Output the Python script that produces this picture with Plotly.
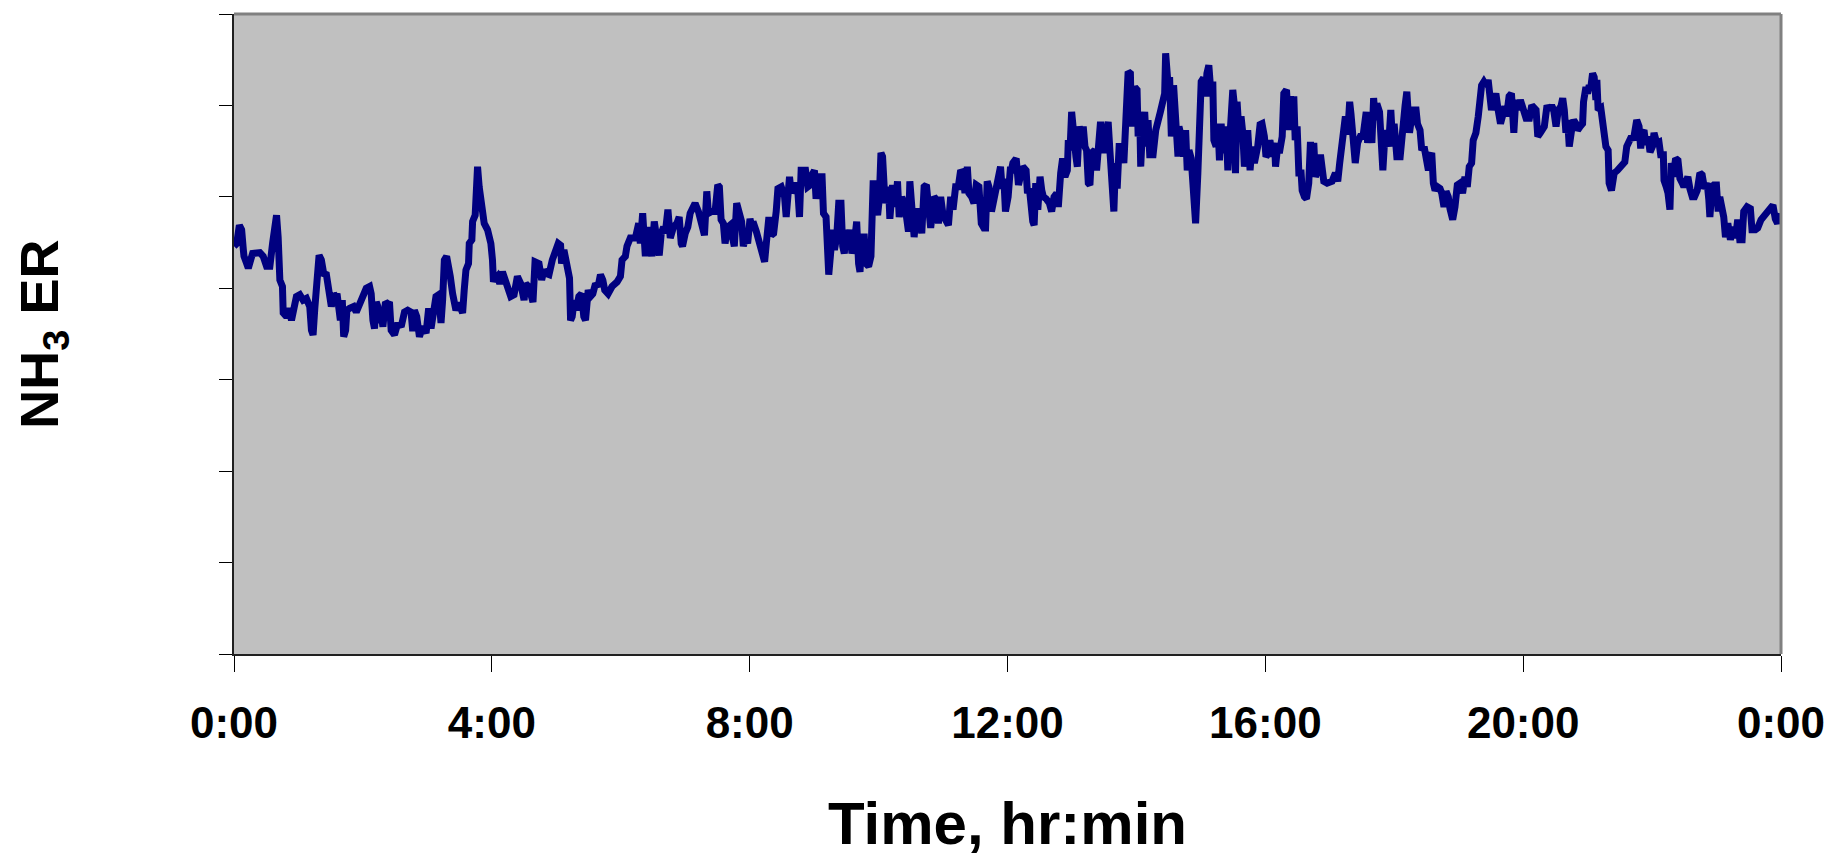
import plotly.graph_objects as go

# Time of day in minutes after midnight (0 .. 1440 = 24:00)
minutes = [
    0.0, 2.5, 5.0, 7.1, 8.7, 9.3, 11.8, 13.3, 15.5, 17.3, 24.1, 27.2, 30.3, 33.4, 35.9, 38.0, 39.6, 41.1, 42.7, 45.1,
    45.8, 48.9, 51.3, 53.5, 55.0, 58.1, 61.2, 64.3, 67.4, 70.5, 72.1, 73.6, 75.2, 77.3, 79.2, 81.3, 83.5, 86.0, 87.5, 89.1,
    90.6, 92.8, 94.6, 95.9, 97.7, 99.0, 100.8, 102.1, 103.9, 105.1, 107.6, 111.3, 113.8, 116.9, 120.0, 123.1, 126.2, 127.7, 129.3, 130.8,
    132.4, 133.9, 135.5, 137.0, 138.6, 141.0, 143.2, 144.7, 146.3, 149.4, 152.5, 155.6, 158.7, 161.7, 164.8, 166.4, 167.9, 170.1, 172.6, 175.7,
    178.8, 181.2, 183.4, 185.6, 188.0, 190.5, 192.7, 194.2, 195.8, 197.9, 199.2, 201.3, 203.5, 206.6, 209.1, 211.2, 212.8, 214.3, 215.9, 218.3,
    219.0, 221.4, 222.1, 224.5, 225.1, 226.7, 228.2, 229.8, 231.3, 232.9, 236.0, 239.1, 240.6, 241.5,
    242.1, 245.2, 247.4, 249.9, 252.3, 254.5, 257.6, 260.7, 263.8, 266.9, 268.4, 270.0, 271.5, 274.0, 276.2, 278.3, 280.2, 283.9, 286.4, 288.5,
    290.7, 293.2, 296.3, 299.4, 301.8, 304.0, 304.9, 307.1, 309.3, 311.1, 312.3, 313.3, 314.8, 316.7, 318.5, 321.0, 323.5, 325.6, 327.2, 329.7,
    331.8, 334.0, 336.5, 338.9, 341.1, 343.3, 345.1, 348.2, 351.9, 356.6, 359.7, 361.2, 364.3, 365.8, 368.9, 373.6, 376.7, 378.2, 380.4, 382.9,
    385.3, 387.5, 389.0, 391.2, 393.7, 395.8, 397.7, 399.9, 401.4, 403.9, 406.1, 409.1, 412.2, 414.4, 416.3, 417.5, 420.0, 422.4, 424.6, 426.8,
    429.2, 432.3, 435.4, 437.9, 440.1, 441.6, 444.7, 447.8, 450.3, 451.8, 453.4, 455.5, 457.1, 459.6, 461.7, 463.9, 465.7, 467.9, 470.1, 472.5,
    474.1, 476.3, 478.1, 480.3, 482.4,
    483.1, 486.2, 489.3, 491.7, 493.9, 495.5, 497.9, 500.1, 502.3, 504.7, 506.3, 509.4, 512.5, 514.0, 515.6, 517.1, 518.7, 521.7, 524.8, 526.4,
    527.9, 532.0, 534.1, 536.3, 538.1, 540.3, 541.8, 544.9, 547.4, 548.7, 551.1, 552.7, 553.6, 555.8, 557.3, 558.9, 561.0, 562.9, 565.0, 566.6,
    568.1, 569.7, 571.2, 573.4, 575.2, 577.4, 579.6, 581.4, 582.7, 584.5, 586.7, 588.2, 590.7, 592.9, 593.8, 595.0, 596.9, 599.1, 600.6, 602.2,
    603.7, 605.2, 606.8, 609.3, 610.5, 613.0, 615.5, 617.6, 619.2, 621.6, 623.8, 626.0, 627.8, 629.1, 630.9, 633.1, 635.2, 637.7, 640.2, 642.4,
    644.5, 646.4, 648.5, 651.6, 653.8, 655.7, 657.8, 660.0, 662.5, 665.0, 667.1, 669.3, 671.7, 674.2, 676.4, 678.5, 680.4, 682.6, 684.1, 686.6,
    688.8, 690.9, 693.4, 695.6, 698.0, 699.6, 701.1, 702.7, 705.1, 707.3, 709.5, 711.9, 713.5, 715.0, 716.6, 718.1, 720.6, 722.8,
    723.1, 725.0, 728.1, 730.2, 731.8, 734.2, 737.3, 738.6, 740.4, 741.7, 743.5, 744.8, 746.3, 748.2, 750.3, 751.9, 753.4, 755.9, 759.0, 761.1,
    763.3, 765.8, 767.3, 769.5, 771.3, 773.5, 775.7, 776.6, 778.2, 779.7, 781.2, 783.7, 785.0, 786.8, 789.0, 790.5, 792.1, 793.6, 795.2, 796.7,
    798.3, 801.3, 802.9, 804.4, 806.6, 809.1, 810.6, 813.7, 815.3, 817.4, 819.0, 820.5, 822.1, 823.9, 826.1, 828.3, 830.1, 832.3, 834.4, 835.4,
    836.9, 838.5, 840.6, 841.6, 843.1, 844.0, 845.6, 847.7, 849.3, 850.8, 852.4, 855.5, 858.0, 860.1, 862.3, 864.1, 866.3, 867.2, 868.5, 869.7,
    870.9, 872.5, 874.6, 876.5, 878.7, 879.6, 881.8, 883.9, 885.8, 887.3, 888.9, 891.0, 892.6, 895.1, 897.2, 898.8, 900.3, 902.5, 904.3, 905.6,
    907.4, 909.6, 911.1, 912.1, 914.2, 915.8, 917.3, 918.9, 920.4, 922.0, 923.5, 925.1, 927.2, 929.7, 931.2, 932.2, 933.7, 935.9, 937.4, 939.0,
    940.5, 943.6, 945.8, 947.6, 949.8, 952.9, 955.1, 956.9, 959.1, 960.6,
    961.8, 964.3, 966.4, 968.6, 969.5, 971.1, 973.5, 975.7, 977.2, 979.7, 981.9, 983.4, 985.0, 986.5, 987.8, 989.6, 991.2, 993.3, 994.3, 996.4,
    998.3, 1000.4, 1002.0, 1003.5, 1005.1, 1006.6, 1008.8, 1011.3, 1012.8, 1014.4, 1017.5, 1022.1, 1025.2, 1027.4, 1029.2, 1031.4, 1034.5, 1036.6, 1038.5, 1039.7,
    1041.6, 1043.7, 1045.9, 1048.4, 1050.9, 1053.9, 1055.2, 1057.0, 1059.2, 1060.8, 1062.3, 1063.8, 1066.3, 1067.6, 1069.4, 1071.6, 1074.7, 1076.8, 1078.7, 1079.9,
    1082.4, 1085.5, 1088.0, 1090.1, 1091.7, 1094.2, 1096.3, 1097.9, 1100.3, 1101.6, 1104.0, 1105.6, 1107.8, 1109.6, 1111.8, 1113.3, 1114.9, 1116.4, 1118.0, 1120.1,
    1122.6, 1124.2, 1126.3, 1128.2, 1130.3, 1131.9, 1134.4, 1136.5, 1138.7, 1141.2, 1143.6, 1145.8, 1148.0, 1149.8, 1152.0, 1153.5, 1156.0, 1158.2, 1159.7, 1161.3,
    1163.4, 1165.9, 1167.4, 1169.0, 1170.5, 1172.7, 1174.6, 1176.7, 1178.9, 1180.7, 1182.9, 1184.5, 1186.9, 1189.1, 1191.3, 1193.1, 1195.3, 1197.4, 1200.5,
    1202.7, 1205.8, 1208.0, 1212.0, 1213.6, 1216.0, 1218.2, 1219.7, 1222.2, 1224.4, 1226.5, 1228.4, 1230.6, 1232.7, 1235.2, 1236.8, 1238.3, 1239.8, 1241.4, 1242.9,
    1245.1, 1247.0, 1249.1, 1250.7, 1253.1, 1255.3, 1256.2, 1258.4, 1259.9, 1261.5, 1263.0, 1264.6, 1266.1, 1267.7, 1268.6, 1269.8, 1272.3, 1273.9, 1275.4, 1277.0,
    1279.1, 1280.0, 1282.2, 1284.1, 1284.7, 1287.8, 1290.3, 1292.4, 1294.6, 1296.4, 1298.6, 1300.8, 1302.6, 1303.9, 1305.7, 1307.9, 1309.4, 1311.0, 1312.5, 1314.1,
    1316.2, 1318.1, 1320.3, 1321.8, 1324.3, 1326.4, 1328.0, 1330.5, 1331.1, 1333.2, 1334.8, 1336.6, 1337.9, 1339.7, 1341.9, 1344.1, 1345.9, 1348.1, 1349.6, 1352.1,
    1353.3, 1355.2, 1357.4, 1359.5, 1362.0, 1364.5, 1366.6, 1368.8, 1371.3, 1372.8, 1373.8, 1375.9, 1377.5, 1379.9, 1381.5, 1383.0, 1385.2, 1386.7, 1388.3, 1390.5,
    1392.9, 1395.4, 1397.6, 1399.7, 1401.6, 1403.8, 1405.3, 1408.4, 1411.5, 1413.0, 1416.1, 1418.3, 1421.4, 1423.9, 1427.0, 1430.0, 1432.5, 1434.7, 1436.8, 1439.3,
]

# NH3 emission rate (relative units; the original axis carries no numbers)
nh3_er = [
    4.46, 4.49, 4.69, 4.64, 4.42, 4.35, 4.27, 4.22, 4.31, 4.38, 4.39, 4.35, 4.24, 4.24, 4.49, 4.64, 4.80, 4.56, 4.09, 4.02,
    3.73, 3.69, 3.78, 3.65, 3.76, 3.91, 3.93, 3.87, 3.89, 3.80, 3.54, 3.49, 3.78, 4.13, 4.36, 4.31, 4.16, 4.15, 4.00, 3.94,
    3.80, 3.94, 3.91, 3.94, 3.76, 3.65, 3.87, 3.47, 3.54, 3.76, 3.78, 3.80, 3.74, 3.82, 3.91, 4.00, 4.02, 3.94, 3.65, 3.56,
    3.85, 3.80, 3.62, 3.73, 3.58, 3.85, 3.83, 3.85, 3.54, 3.49, 3.62, 3.58, 3.74, 3.76, 3.74, 3.53, 3.76, 3.69, 3.47, 3.58,
    3.51, 3.78, 3.56, 3.74, 3.91, 3.93, 3.62, 3.87, 4.31, 4.35, 4.20, 4.13, 3.94, 3.76, 3.84, 3.74, 3.73, 3.98, 4.20, 4.27,
    4.49, 4.53, 4.73, 4.80, 5.07, 5.33, 5.11, 5.00, 4.93, 4.71, 4.64, 4.49, 4.31, 4.07,
    4.09, 4.13, 4.05, 4.18, 4.09, 4.05, 3.91, 3.93, 4.13, 4.05, 3.91, 3.87, 4.05, 4.02, 3.94, 3.85, 4.29, 4.27, 4.09, 4.20,
    4.16, 4.15, 4.31, 4.42, 4.49, 4.47, 4.27, 4.42, 4.27, 4.13, 4.11, 3.65, 3.69, 3.87, 3.76, 3.91, 3.94, 3.69, 3.65, 3.98,
    3.91, 3.94, 4.05, 4.02, 4.15, 4.09, 3.98, 3.94, 4.02, 4.07, 4.13, 4.31, 4.35, 4.46, 4.55, 4.55, 4.71, 4.49, 4.82, 4.35,
    4.67, 4.51, 4.35, 4.73, 4.56, 4.36, 4.60, 4.67, 4.60, 4.86, 4.55, 4.67, 4.71, 4.78, 4.49, 4.46, 4.60, 4.67, 4.82, 4.86,
    4.93, 4.84, 4.67, 4.58, 5.06, 4.82, 4.84, 4.84, 5.13, 5.11, 4.75, 4.71, 4.49, 4.67, 4.69, 4.56, 4.46, 4.93, 4.86, 4.73,
    4.46, 4.56, 4.49, 4.76, 4.64,
    4.73, 4.62, 4.51, 4.38, 4.29, 4.49, 4.78, 4.58, 4.60, 4.84, 5.09, 5.11, 5.00, 4.78, 4.97, 5.22, 5.04, 5.15, 5.07, 4.78,
    5.29, 5.29, 5.11, 5.13, 5.24, 5.29, 4.98, 5.22, 5.22, 4.82, 4.78, 4.49, 4.15, 4.44, 4.64, 4.42, 4.56, 4.93, 4.93, 4.46,
    4.38, 4.64, 4.42, 4.64, 4.38, 4.49, 4.73, 4.27, 4.18, 4.56, 4.56, 4.27, 4.24, 4.35, 4.93, 5.18, 4.97, 4.80, 4.97, 5.48,
    5.44, 5.11, 4.93, 5.11, 4.76, 5.13, 4.89, 5.17, 4.78, 5.00, 4.93, 4.78, 4.62, 5.17, 4.93, 4.56, 4.84, 4.84, 4.60, 5.11,
    5.13, 4.82, 4.66, 5.00, 4.97, 4.71, 5.00, 4.80, 4.76, 4.69, 5.00, 4.86, 5.11, 5.11, 5.29, 5.26, 5.04, 5.33, 5.04, 5.00,
    4.93, 5.13, 5.11, 4.71, 4.66, 4.66, 5.17, 5.11, 4.84, 4.97, 5.18, 5.26, 5.33, 5.09, 5.20, 4.84, 5.00, 5.33,
    5.26, 5.37, 5.42, 5.13, 5.22, 5.33, 5.29, 5.04, 5.09, 4.82, 4.73, 4.69, 5.15, 4.86, 5.22, 5.07, 5.00, 4.98, 4.93, 4.84,
    5.00, 5.04, 4.89, 5.26, 5.42, 5.22, 5.29, 5.62, 5.51, 5.93, 5.62, 5.44, 5.33, 5.77, 5.66, 5.77, 5.55, 5.51, 5.15, 5.13,
    5.48, 5.51, 5.29, 5.59, 5.82, 5.48, 5.59, 5.82, 5.51, 5.18, 4.84, 5.37, 5.09, 5.55, 5.55, 5.37, 5.80, 6.37, 6.35, 5.77,
    6.13, 6.20, 6.17, 5.66, 5.88, 5.33, 5.73, 5.93, 5.55, 5.84, 5.46, 5.46, 5.73, 5.80, 5.93, 6.02, 6.13, 6.57, 6.39, 6.19,
    6.31, 5.66, 6.22, 5.62, 5.44, 5.77, 5.66, 5.44, 5.73, 5.29, 5.51, 5.42, 5.22, 4.71, 5.26, 5.99, 6.26, 6.30, 6.10, 6.35,
    6.44, 6.10, 6.26, 5.62, 5.55, 5.80, 5.40, 5.80, 5.48, 5.62, 5.77, 5.29, 5.73, 6.17, 6.00, 5.26, 6.04, 5.62, 5.88, 5.70,
    5.33, 5.73, 5.29, 5.55, 5.37, 5.55, 5.79, 5.80, 5.66, 5.44,
    5.46, 5.62, 5.44, 5.59, 5.33, 5.51, 5.51, 5.66, 6.13, 6.17, 5.73, 6.10, 5.80, 6.10, 5.62, 5.77, 5.26, 5.26, 5.07, 5.00,
    4.98, 5.15, 5.60, 5.22, 5.59, 5.22, 5.29, 5.46, 5.33, 5.17, 5.15, 5.17, 5.26, 5.17, 5.37, 5.62, 5.88, 5.68, 6.04, 5.91,
    5.66, 5.37, 5.59, 5.66, 5.66, 5.93, 5.59, 5.88, 5.59, 6.08, 5.84, 6.02, 5.93, 5.62, 5.29, 5.73, 5.55, 5.95, 5.55, 5.80,
    5.44, 5.44, 5.91, 6.00, 6.15, 5.70, 5.88, 5.95, 5.95, 5.80, 5.73, 5.51, 5.55, 5.38, 5.29, 5.44, 5.48, 5.15, 5.07, 5.11,
    5.09, 5.04, 4.89, 5.06, 5.00, 4.87, 4.75, 4.89, 5.13, 5.15, 5.04, 5.22, 5.11, 5.33, 5.37, 5.62, 5.70, 5.88, 6.08, 6.22,
    6.26, 6.21, 6.28, 6.10, 5.95, 6.06, 6.13, 5.95, 5.80, 5.88, 5.99, 5.88, 6.10, 6.13, 5.70, 6.06, 5.95, 6.06, 5.95,
    5.86, 5.86, 6.00, 5.95, 5.66, 5.70, 5.73, 5.77, 6.00, 5.95, 6.00, 5.95, 5.77, 5.95, 5.99, 6.08, 5.95, 5.70, 5.84, 5.55,
    5.73, 5.84, 5.80, 5.73, 5.77, 5.80, 6.04, 6.20, 6.13, 6.22, 6.20, 6.35, 6.31, 6.06, 6.28, 5.95, 5.97, 5.77, 5.77, 5.55,
    5.51, 5.15, 5.07, 5.22, 5.26, 5.29, 5.33, 5.35, 5.38, 5.55, 5.59, 5.66, 5.62, 5.80, 5.84, 5.77, 5.53, 5.70, 5.73, 5.57,
    5.66, 5.49, 5.55, 5.70, 5.59, 5.60, 5.46, 5.46, 5.18, 5.11, 5.04, 4.86, 5.37, 5.22, 5.42, 5.40, 5.20, 5.15, 5.11, 5.18,
    5.22, 5.09, 5.00, 5.00, 5.07, 5.26, 5.24, 5.09, 5.15, 4.97, 4.78, 5.11, 5.13, 5.13, 4.84, 5.00, 4.89, 4.78, 4.56, 4.71,
    4.53, 4.67, 4.55, 4.75, 4.53, 4.53, 4.84, 4.89, 4.87, 4.64, 4.64, 4.66, 4.75, 4.78, 4.82, 4.86, 4.91, 4.76, 4.71, 4.82,
]

tick_minutes = [0, 240, 480, 720, 960, 1200, 1440]
tick_labels = ["0:00", "4:00", "8:00", "12:00", "16:00", "20:00", "0:00"]
y_ticks = [0, 1, 2, 3, 4, 5, 6, 7]

FONT = "Arial, 'Liberation Sans', sans-serif"

fig = go.Figure()
fig.add_trace(go.Scatter(
    x=minutes, y=nh3_er, mode="lines",
    line=dict(color="#000080", width=7),
    hoverinfo="skip", showlegend=False,
))

fig.update_layout(
    width=1837, height=856,
    margin=dict(l=234, r=51, t=14, b=202),
    paper_bgcolor="white",
    plot_bgcolor="#C0C0C0",
    showlegend=False,
    font=dict(family=FONT, color="black"),
)

fig.update_xaxes(
    range=[0, 1440],
    tickmode="array", tickvals=tick_minutes, ticktext=tick_labels,
    ticks="outside", ticklen=16, tickwidth=1, tickcolor="black",
    tickfont=dict(family=FONT, size=44, color="black", weight="bold"),
    ticklabelstandoff=13,
    showline=True, linecolor="#202020", linewidth=2,
    showgrid=False, zeroline=False,
)
fig.update_yaxes(
    range=[0, 7],
    tickmode="array", tickvals=y_ticks,
    showticklabels=False,
    ticks="outside", ticklen=13, tickwidth=1, tickcolor="black",
    showline=True, linecolor="#202020", linewidth=2,
    showgrid=False, zeroline=False,
)

# grey top and right frame edges
fig.add_shape(type="line", xref="paper", yref="paper", x0=0, x1=1, y0=1, y1=1,
              line=dict(color="#808080", width=3))
fig.add_shape(type="line", xref="paper", yref="paper", x0=1, x1=1, y0=0, y1=1,
              line=dict(color="#808080", width=3))

fig.add_annotation(
    text="NH<sub>3</sub> ER", xref="paper", yref="paper",
    x=-0.1237, y=0.5, xanchor="center", yanchor="middle", textangle=-90,
    showarrow=False, font=dict(family=FONT, size=54, color="black", weight="bold"),
)
fig.add_annotation(
    text="Time, hr:min", xref="paper", yref="paper",
    x=0.5, y=-0.2656, xanchor="center", yanchor="middle",
    showarrow=False, font=dict(family=FONT, size=60, color="black", weight="bold"),
)

fig.write_html("out.html")
